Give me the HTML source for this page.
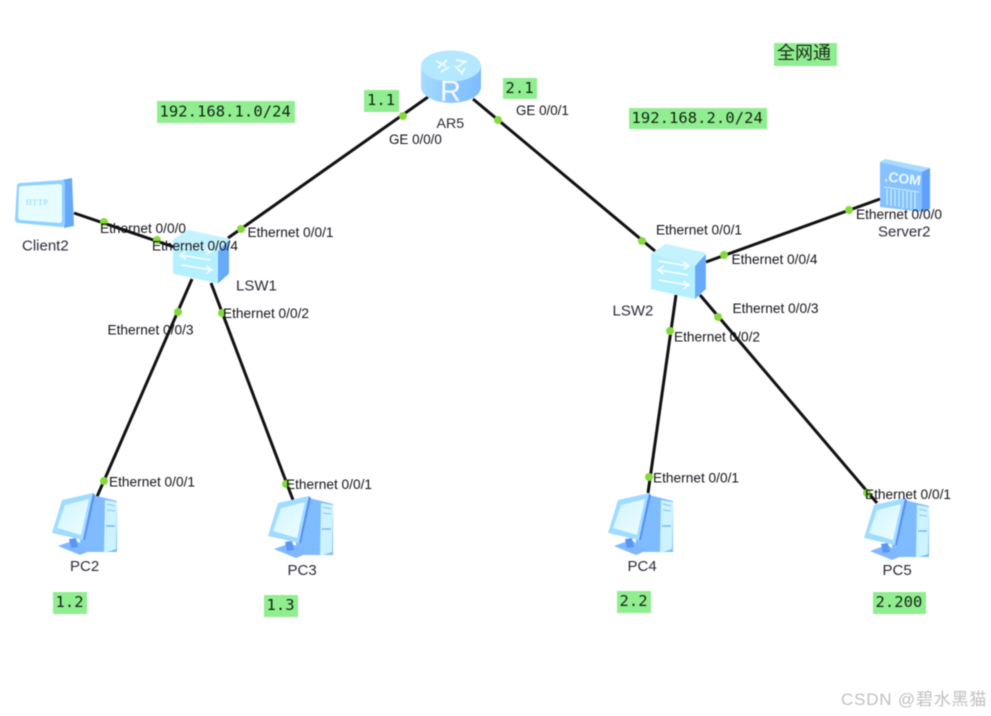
<!DOCTYPE html>
<html>
<head>
<meta charset="utf-8">
<style>
html,body{margin:0;padding:0;background:#fff;width:991px;height:716px;overflow:hidden}
svg{display:block;filter:blur(.5px)}
.p{font:13.7px "Liberation Sans",sans-serif;fill:#14141c}
.n{font:15px "Liberation Sans",sans-serif;fill:#2a2a3a}
.m{font:15.5px "DejaVu Sans Mono","Liberation Mono",monospace;fill:#142414;letter-spacing:.05px}
.l{stroke:#111;stroke-width:3;fill:none}
.d{fill:#86d93a}
.g{fill:#90ee90}
</style>
</head>
<body>
<svg width="991" height="716" viewBox="0 0 991 716" xmlns="http://www.w3.org/2000/svg">
<defs>
<linearGradient id="rb" x1="0" y1="0" x2="1" y2="0"><stop offset="0" stop-color="#a8dcff"/><stop offset=".5" stop-color="#8cc8ff"/><stop offset="1" stop-color="#7dbcff"/></linearGradient>
<linearGradient id="scr" x1="0" y1="0" x2="1" y2="1"><stop offset="0" stop-color="#d0f4ff"/><stop offset="1" stop-color="#eefdff"/></linearGradient>
<g id="pc">
<polygon points="41,3 65,9 65,60 28,60 28,48" fill="#7fbcff"/>
<polygon points="53,8 65,10 64,57 52,61" fill="#ccf3ff"/>
<polygon points="6,54 23,48 40,58 28,63" fill="#80b8ff"/>
<polygon points="17,47 24,46 26,55 19,56" fill="#5a96f5"/>
<polygon points="0,41 10,8 41,1 31,48" fill="#a0dcff"/>
<polygon points="41,1 43,3 33,48 31,48" fill="#5a8ff5"/>
<polygon points="5,36 13,13 37,7 29,43" fill="url(#scr)"/>
<line x1="55" y1="12" x2="63" y2="14" stroke="#86c4f5" stroke-width="1"/>
<line x1="55" y1="18" x2="63" y2="19" stroke="#86c4f5" stroke-width="1"/>
<line x1="54" y1="34" x2="63" y2="34" stroke="#7ab8f5" stroke-width="1.5"/>
</g>
<g id="sw">
<polygon points="0,10 15,0 56,9 45,23 45,55 0,45" fill="#b4eeff"/>
<polygon points="0,11 45,22 45,55 0,45" fill="#b4f0ff"/>
<polygon points="45,22 56,10 56,45 45,55" fill="#66aaf8"/>
<polygon points="0,10 15,0 56,9 45,22" fill="#c4f2ff"/>
<g stroke="#fff" stroke-width="1.4" fill="none">
<path d="M8,17 L38,22 M33,18 L39,22 L33,25"/>
<path d="M38,31 L8,26 M13,22 L7,26 L13,30"/>
<path d="M8,36 L38,41 M33,37 L39,41 L33,45"/>
</g>
</g>
</defs>

<rect width="991" height="716" fill="#fff"/>

<!-- links -->
<line class="l" x1="74" y1="213" x2="174" y2="247"/>
<line class="l" x1="228" y1="238" x2="428" y2="97"/>
<line class="l" x1="473" y1="99" x2="655" y2="251"/>
<line class="l" x1="706" y1="262" x2="880" y2="199"/>
<line class="l" x1="676" y1="295" x2="648" y2="493"/>
<line class="l" x1="700" y1="295" x2="877" y2="503"/>
<line class="l" x1="192" y1="279" x2="96" y2="499"/>
<line class="l" x1="211" y1="283" x2="293" y2="500"/>

<!-- router -->
<g>
<path d="M421,66 L421,87 A30,16 0 0 0 481,87 L481,66 Z" fill="url(#rb)"/>
<ellipse cx="451" cy="66" rx="30" ry="15.5" fill="#b4e8ff"/>
<g stroke="#eefaff" stroke-width="2" fill="none">
<path d="M436,61 L446,66 M438,68 L447,60 M456,60 L467,62 M458,67 L466,61 M441,72 L449,67 M455,66 L463,74 M461,74 L465,68"/>
</g>
<text x="440" y="101" font-family="Liberation Sans, sans-serif" font-size="29" fill="#f6fcff">R</text>
</g>

<!-- switches -->
<use href="#sw" transform="translate(173,230) scale(1,.97)"/>
<use href="#sw" transform="translate(651,244) scale(.98,1)"/>

<!-- PCs -->
<use href="#pc" transform="translate(52,492)"/>
<use href="#pc" transform="translate(268,495)"/>
<use href="#pc" transform="translate(608,492)"/>
<use href="#pc" transform="translate(864,497)"/>

<!-- client -->
<g>
<polygon points="62,180 72,178 74,226 64,228" fill="#68a8fa"/>
<path d="M20,183 L62,180 Q65,180 65,184 L65,224 Q65,227 61,227 L19,223 Q15,223 15,219 L17,186 Q17,183 20,183 Z" fill="#8fd2ff"/>
<path d="M22,186 L59,184 Q62,184 62,187 L62,220 Q62,223 59,223 L21,220 Q18,220 18,217 L19,189 Q19,186 22,186 Z" fill="#e6fcff"/>
<text x="26" y="205" font-family="Liberation Serif, serif" font-size="8" letter-spacing=".6" fill="#8ad4ff">HTTP</text>
</g>

<!-- server -->
<g>
<polygon points="880,162 885,159 930,168 922,172" fill="#a8dcff"/>
<polygon points="922,172 930,168 930,209 922,212" fill="#609ffa"/>
<polygon points="880,162 922,172 922,212 880,207" fill="#85c2ff"/>
<text x="884" y="181" font-family="Liberation Sans, sans-serif" font-size="14" font-weight="bold" fill="#eefaff" transform="rotate(7 884 181)">.COM</text>
<g stroke="#d6f2ff" stroke-width="1">
<line x1="884" y1="187" x2="919" y2="192"/>
<line x1="887" y1="189" x2="887" y2="205"/><line x1="891" y1="189" x2="891" y2="206"/><line x1="895" y1="190" x2="895" y2="206"/><line x1="899" y1="190" x2="899" y2="207"/><line x1="903" y1="191" x2="903" y2="208"/><line x1="907" y1="191" x2="907" y2="208"/><line x1="911" y1="192" x2="911" y2="209"/><line x1="915" y1="192" x2="915" y2="209"/>
</g>
</g>

<!-- ports -->
<g class="d">
<circle cx="104" cy="222" r="4"/><circle cx="157" cy="240" r="4"/><circle cx="241" cy="229" r="4"/>
<circle cx="178" cy="312" r="4"/><circle cx="222" cy="313" r="4"/><circle cx="403" cy="116" r="4"/>
<circle cx="498" cy="120" r="4"/><circle cx="642" cy="241" r="4"/><circle cx="724" cy="255" r="4"/>
<circle cx="849" cy="210" r="4"/><circle cx="718" cy="317" r="4"/><circle cx="670" cy="331" r="4"/>
<circle cx="104" cy="481" r="4"/><circle cx="286" cy="484" r="4"/><circle cx="649" cy="477" r="4"/><circle cx="867" cy="493" r="4"/>
</g>

<!-- green notes -->
<g class="g">
<rect x="157" y="101" width="138" height="22"/>
<rect x="364" y="90" width="35" height="22"/>
<rect x="503" y="78" width="34" height="21"/>
<rect x="629" y="108" width="138" height="21"/>
<rect x="774" y="43" width="63" height="23"/>
<rect x="53" y="592" width="34" height="22"/>
<rect x="264" y="595" width="34" height="22"/>
<rect x="617" y="591" width="34" height="22"/>
<rect x="873" y="592" width="53" height="22"/>
</g>
<g class="m">
<text x="159.500" y="116.500">192.168.1.0/24</text>
<text x="367" y="105">1.1</text>
<text x="505.500" y="93">2.1</text>
<text x="631.500" y="123">192.168.2.0/24</text>
<text x="55.500" y="607">1.2</text>
<text x="266.500" y="610">1.3</text>
<text x="619.500" y="606">2.2</text>
<text x="875.500" y="607">2.200</text>
</g>
<text x="777" y="59" font-family="Liberation Sans, 'Noto Sans CJK SC', sans-serif" font-size="18" fill="#1a2a1a">全网通</text>

<!-- port labels -->
<g class="p">
<text x="100" y="233">Ethernet 0/0/0</text>
<text x="152" y="250.500">Ethernet 0/0/4</text>
<text x="247.500" y="237">Ethernet 0/0/1</text>
<text x="223" y="318">Ethernet 0/0/2</text>
<text x="107.500" y="334.500">Ethernet 0/0/3</text>
<text x="109" y="486.500">Ethernet 0/0/1</text>
<text x="286" y="489">Ethernet 0/0/1</text>
<text x="656" y="234.500">Ethernet 0/0/1</text>
<text x="856" y="219">Ethernet 0/0/0</text>
<text x="731.500" y="264">Ethernet 0/0/4</text>
<text x="732.500" y="313">Ethernet 0/0/3</text>
<text x="674" y="341.500">Ethernet 0/0/2</text>
<text x="653" y="482.500">Ethernet 0/0/1</text>
<text x="865" y="499">Ethernet 0/0/1</text>
<text x="389" y="144" style="font-size:13.400px">GE 0/0/0</text>
<text x="516" y="115" style="font-size:13.400px">GE 0/0/1</text>
</g>

<!-- node labels -->
<g class="n">
<text x="22" y="250.500">Client2</text>
<text x="236" y="290.500">LSW1</text>
<text x="612.500" y="315.500">LSW2</text>
<text x="878" y="236.500">Server2</text>
<text x="70" y="571">PC2</text>
<text x="287.500" y="575">PC3</text>
<text x="627.500" y="571">PC4</text>
<text x="882.500" y="575">PC5</text>
<text x="436.500" y="128" style="font-size:14.200px">AR5</text>
</g>

<text x="841" y="705" font-family="Liberation Sans, 'Noto Sans CJK SC', sans-serif" font-size="17" letter-spacing=".8" fill="#c0c0c0">CSDN @碧水黑猫</text>
</svg>
</body>
</html>
